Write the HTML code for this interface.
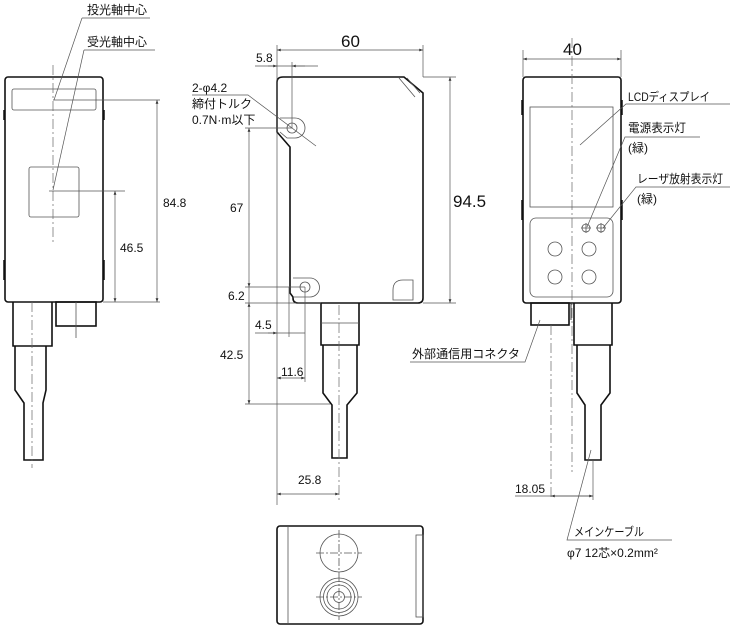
<!DOCTYPE html>
<html><head><meta charset="utf-8"><style>
html,body{margin:0;padding:0;background:#fff;}
svg{display:block;}
text{font-family:"Liberation Sans","Noto Sans CJK JP",sans-serif;fill:#111;}
</style></head><body>
<svg width="730" height="635" viewBox="0 0 730 635" xmlns="http://www.w3.org/2000/svg">
<defs>
<marker id="a" viewBox="0 0 8 6" refX="8" refY="3" markerWidth="6" markerHeight="4" orient="auto-start-reverse"><path d="M0,0L8,3L0,6z" fill="#333"/></marker>
</defs>
<g fill="none" stroke="#111" stroke-width="1.6">
<rect x="5" y="77" width="98" height="225" rx="3"/>
<path d="M13,302V346H52V302"/>
<path d="M15,346V390L24,403V460H43V403L46,390V346"/>
<rect x="56" y="302" width="40" height="24" />
<path d="M283,77H404L423,93V298Q423,303 418,303H298Q293,303 293,298V297L290,293V147L277,132V82Q277,77 283,77Z"/>
<path d="M321,303V345H359V303"/>
<path d="M323,345V393L332,405V458H347V405L357,393V345"/>
<rect x="523" y="77" width="98" height="226" rx="3"/>
<rect x="531" y="303" width="38" height="22"/>
<path d="M574,303V345H612V303"/>
<path d="M577,345V393L585,405V460H601V405L610,393V345"/>
<rect x="277" y="526" width="146" height="98" rx="3"/>
</g>
<g fill="none" stroke="#555" stroke-width="0.8">
<rect x="12" y="89" width="84" height="21" rx="2"/>
<rect x="29" y="167" width="50" height="50" rx="2"/>
<path d="M4,110V120M104,110V120M4,260V280M104,260V280" stroke="#111" stroke-width="1.5"/>
<path d="M76,302V338"/>
<circle cx="292" cy="128" r="5"/>
<path d="M280,118H295A10,10 0 0 1 295,138H287L280,132"/>
<circle cx="305" cy="287" r="5"/>
<path d="M293,278H310A9,9 0 0 1 310,297H293"/>
<path d="M399,78L415,97M407,78L420,93" />
<path d="M393,290Q393,280 403,280H413V300H393Z"/>
<path d="M321,323H359"/>
<rect x="530" y="107" width="83" height="100"/>
<rect x="530" y="218" width="83" height="79" rx="6"/>
<circle cx="586" cy="228" r="4"/><path d="M581,228H591M586,223V233"/>
<circle cx="601" cy="228" r="4"/><path d="M596,228H606M601,223V233"/>
<circle cx="555" cy="249" r="7"/><circle cx="589" cy="249" r="7"/>
<circle cx="555" cy="277" r="7"/><circle cx="589" cy="277" r="7"/>
<path d="M522,100V115M622,100V115M522,200V220M622,200V220" stroke="#111" stroke-width="1.5"/>
<path d="M571,303V320" stroke="#111"/>
<path d="M288,526V624"/>
<rect x="416" y="535" width="7" height="82"/>
<circle cx="339" cy="553" r="19"/>
<circle cx="339" cy="597" r="19"/><circle cx="339" cy="597" r="15.5"/><circle cx="339" cy="597" r="12"/><circle cx="339" cy="597" r="5.5"/>
<path d="M316,553H362M339,530V576M316,597H362M339,574V620" stroke-dasharray="8,2,2,2"/>
</g>
<g stroke="#666" stroke-width="0.7" fill="none" stroke-dasharray="10,3,2,3">
<path d="M53,65V242"/><path d="M32,302V468"/>
<path d="M339,305V500"/>
<path d="M572,38V472"/>
<path d="M551,325V500"/>
</g>
<g stroke="#555" stroke-width="0.7" fill="none">
<path d="M49,191H125M103,302H160M53,100H160"/>
<path d="M157,100V302" marker-start="url(#a)" marker-end="url(#a)"/>
<path d="M115,191V302" marker-start="url(#a)" marker-end="url(#a)"/>
<path d="M82,18H150M82,18L54,100M84,50H155M84,50L53,190"/>
<path d="M277,45V505M423,45V77M292,62V128"/>
<path d="M277,50H423" marker-start="url(#a)" marker-end="url(#a)"/>
<path d="M255,66H318"/><path d="M268,66H277" marker-end="url(#a)"/><path d="M305,66H292" marker-end="url(#a)"/>
<path d="M423,77H456M423,303H456"/>
<path d="M450,77V303" marker-start="url(#a)" marker-end="url(#a)"/>
<path d="M245,128H292M245,287H305M245,303H321M245,404H330"/>
<path d="M249,128V287" marker-start="url(#a)" marker-end="url(#a)"/>
<path d="M249,287V303"/>
<path d="M249,303V404" marker-start="url(#a)" marker-end="url(#a)"/>
<path d="M289,287V337M305,287V382"/>
<path d="M255,333H305"/><path d="M268,333H277" marker-end="url(#a)"/>
<path d="M277,378H305" marker-start="url(#a)" marker-end="url(#a)"/>
<path d="M277,494H339" marker-start="url(#a)" marker-end="url(#a)"/>
<path d="M192,95H248L316,146"/>
<path d="M523,50V77M621,50V77"/>
<path d="M523,59H621" marker-start="url(#a)" marker-end="url(#a)"/>
<path d="M593,460V500"/>
<path d="M515,496H593"/><path d="M551,496H593" marker-start="url(#a)" marker-end="url(#a)"/>
<path d="M730,104H626L580,145"/>
<path d="M700,137H625L587,227"/>
<path d="M730,187H636L603,228"/>
<path d="M410,362H525L540,320"/>
<path d="M672,540H567L591,450"/>
</g>
<g font-size="12">
<text x="87" y="14">投光軸中心</text>
<text x="87" y="46">受光軸中心</text>
<text x="163" y="207">84.8</text>
<text x="120" y="252">46.5</text>
<text x="192" y="92">2-φ4.2</text>
<text x="192" y="108">締付トルク</text>
<text x="192" y="124">0.7N·m以下</text>
<text x="256" y="62">5.8</text>
<text x="230" y="212">67</text>
<text x="228" y="300">6.2</text>
<text x="220" y="359">42.5</text>
<text x="255" y="329">4.5</text>
<text x="281" y="376">11.6</text>
<text x="298" y="484">25.8</text>
<text x="628" y="101" textLength="82" lengthAdjust="spacingAndGlyphs">LCDディスプレイ</text>
<text x="628" y="132" textLength="58" lengthAdjust="spacingAndGlyphs">電源表示灯</text>
<text x="628" y="152">(緑)</text>
<text x="637" y="183" textLength="86" lengthAdjust="spacingAndGlyphs">レーザ放射表示灯</text>
<text x="637" y="203">(緑)</text>
<text x="412" y="358" textLength="108" lengthAdjust="spacingAndGlyphs">外部通信用コネクタ</text>
<text x="515" y="493">18.05</text>
<text x="574" y="536" textLength="70" lengthAdjust="spacingAndGlyphs">メインケーブル</text>
<text x="567" y="557">φ7 12芯×0.2mm²</text>
</g>
<g font-size="17">
<text x="341" y="47">60</text>
<text x="453" y="207">94.5</text>
<text x="563" y="55">40</text>
</g>
</svg>
</body></html>
